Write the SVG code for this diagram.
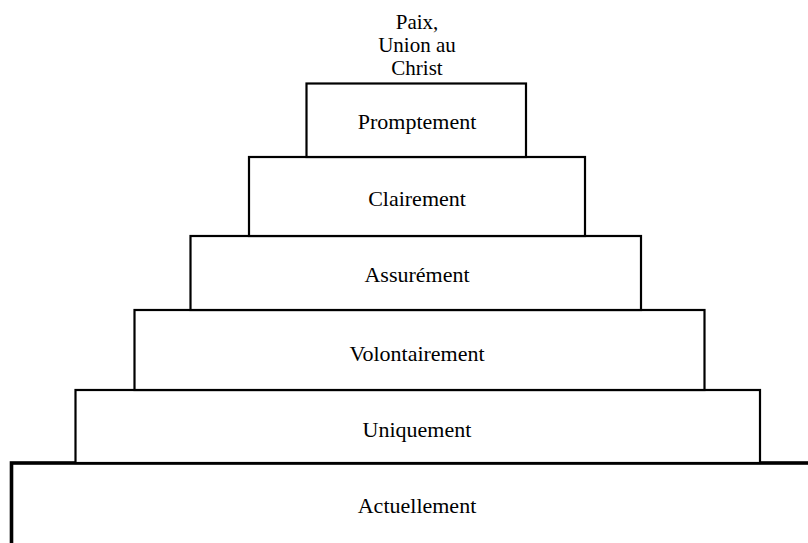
<svg xmlns="http://www.w3.org/2000/svg" width="808" height="543" viewBox="0 0 808 543">
<style>
.box{fill:#fff;stroke:#000;stroke-width:2.2}
.base{fill:#fff;stroke:#000;stroke-width:3.6}
text{font-family:"Liberation Serif","Times New Roman",serif;font-size:22px;fill:#000;text-anchor:middle}
.top{font-size:21px}
</style>
<rect width="808" height="543" fill="#fff"/>
<g id="summit">
<text class="top" x="417" y="28.5">Paix,</text>
<text class="top" x="417" y="51.5">Union au</text>
<text class="top" x="417" y="74.5">Christ</text>
</g>
<g id="actuellement">
<rect class="base" x="11.5" y="463" width="820" height="100"/>
<text x="417" y="512.5">Actuellement</text>
</g>
<g id="uniquement">
<rect class="box" x="75.5" y="390" width="684.5" height="73"/>
<text x="417" y="437">Uniquement</text>
</g>
<g id="volontairement">
<rect class="box" x="134.5" y="310" width="570" height="80"/>
<text x="417" y="360.5">Volontairement</text>
</g>
<g id="assurement">
<rect class="box" x="190.5" y="236" width="450.5" height="74"/>
<text x="417" y="282">Assurément</text>
</g>
<g id="clairement">
<rect class="box" x="249" y="157" width="336" height="79"/>
<text x="417" y="205.5">Clairement</text>
</g>
<g id="promptement">
<rect class="box" x="306.5" y="83.5" width="219.5" height="73.5"/>
<text x="417" y="129">Promptement</text>
</g>
<g id="connectors"></g>
</svg>
